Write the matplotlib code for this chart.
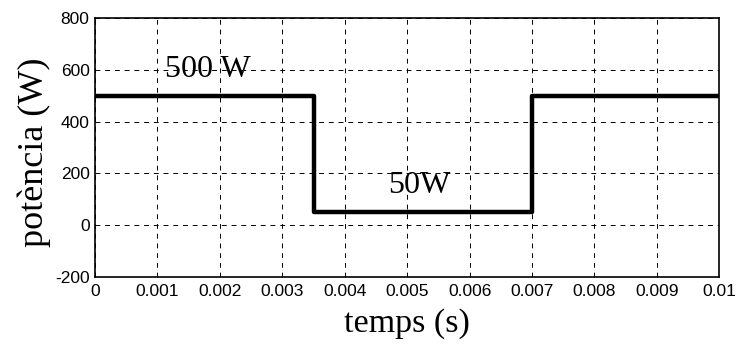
import numpy as np
import matplotlib.pyplot as plt

plt.rcParams['axes.unicode_minus'] = False

# step signal: power (W) vs time (s)
t = [0, 0.0035, 0.0035, 0.007, 0.007, 0.01]
p = [500, 500, 50, 50, 500, 500]

xticks = [0, 0.001, 0.002, 0.003, 0.004, 0.005, 0.006, 0.007, 0.008, 0.009, 0.01]
xticklabels = ['0', '0.001', '0.002', '0.003', '0.004', '0.005', '0.006',
               '0.007', '0.008', '0.009', '0.01']
yticks = [-200, 0, 200, 400, 600, 800]

fig = plt.figure(figsize=(7.37, 3.44), dpi=100)
ax = fig.add_axes([0.129, 0.195, 0.847, 0.753])

ax.plot(t, p, color='black', linewidth=3.2, solid_joinstyle='round')

ax.set_xlim(0, 0.01)
ax.set_ylim(-200, 800)
ax.set_xticks(xticks)
ax.set_xticklabels(xticklabels)
ax.set_yticks(yticks)
ax.tick_params(direction='in', length=0, labelsize=12.5)
ax.tick_params(axis='x', pad=5)
ax.tick_params(axis='y', pad=4)
for lbl in ax.get_xticklabels() + ax.get_yticklabels():
    lbl.set_family('Liberation Sans')

ax.grid(True, color='black', linestyle=(0, (5, 5)), linewidth=0.7)
for s in ax.spines.values():
    s.set_linewidth(1.2)

serif = 'Liberation Serif'
ax.set_xlabel('temps (s)', fontsize=24.5, family=serif, labelpad=7)
ax.set_ylabel('potència (W)', fontsize=26, family=serif)
ax.yaxis.set_label_coords(-0.071, 0.48)

ax.text(0.00112, 572, '500 W', fontsize=23, family=serif, ha='left', va='baseline')
ax.text(0.0047, 125, '50W', fontsize=23, family=serif, ha='left', va='baseline')

fig.savefig('out.png', dpi=100)
